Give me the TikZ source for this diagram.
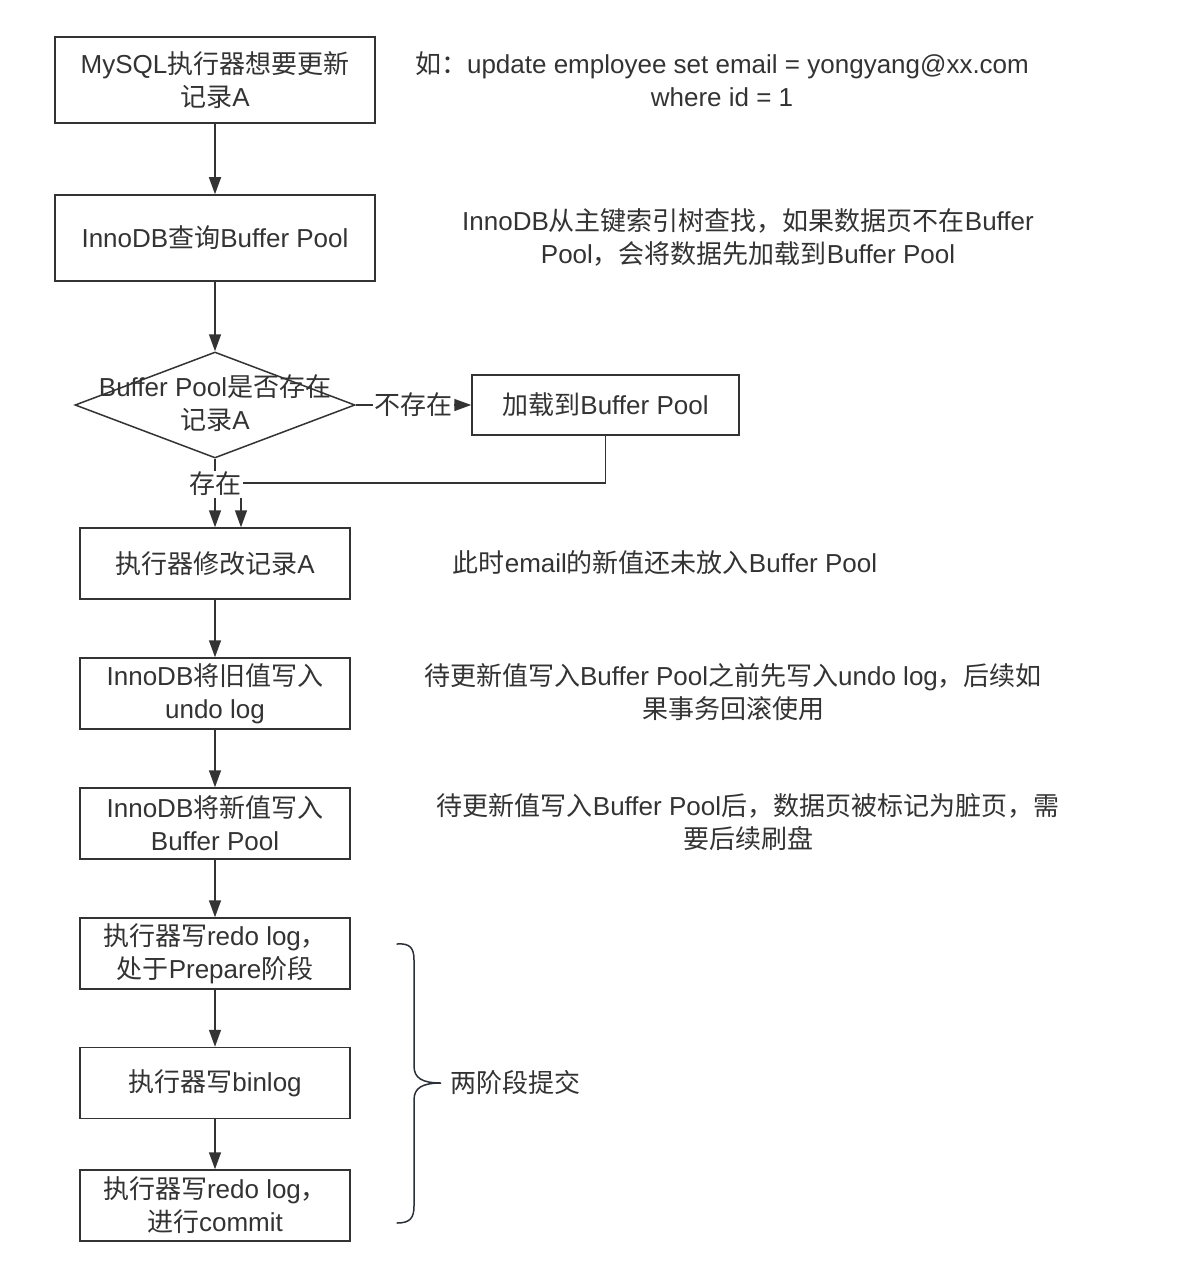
\documentclass[tikz,border=0pt]{standalone}
\usepackage{fontspec}
\setmainfont{Liberation Sans}
\newfontfamily\cjk{Noto Sans CJK SC}
\usetikzlibrary{arrows.meta,shapes.geometric}
\XeTeXinterchartokenstate=1
\newXeTeXintercharclass\CJKcls
\count255="4E00
\loop\XeTeXcharclass\count255=\CJKcls\ifnum\count255<"9FFF\advance\count255 by 1\repeat
\count255="3000
\loop\XeTeXcharclass\count255=\CJKcls\ifnum\count255<"303F\advance\count255 by 1\repeat
\count255="FF00
\loop\XeTeXcharclass\count255=\CJKcls\ifnum\count255<"FFEF\advance\count255 by 1\repeat
\XeTeXinterchartoks 0 \CJKcls = {\begingroup\cjk}
\XeTeXinterchartoks 4095 \CJKcls = {\begingroup\cjk}
\XeTeXinterchartoks \CJKcls 0 = {\endgroup}
\XeTeXinterchartoks \CJKcls 4095 = {\endgroup}
\definecolor{ln}{HTML}{333333}
\definecolor{tx}{HTML}{333333}
\definecolor{br}{HTML}{2B3038}
\tikzset{
  every node/.style={font=\fontsize{26}{33}\selectfont, text=tx, align=center, inner sep=0pt},
  box/.style={draw=ln, line width=1.5pt, rectangle},
  bigbox/.style={box, minimum width=320pt, minimum height=86pt},
  stepbox/.style={box, minimum width=270pt, minimum height=71pt},
  arr/.style={draw=ln, line width=1.5pt, -{Triangle[length=17pt,width=12pt]}},
  lab/.style={fill=white, inner sep=1.5pt},
  note/.style={}
}
\begin{document}
\begin{tikzpicture}[x=1pt,y=-1pt]
\useasboundingbox[fill=white] (0,0) rectangle (1176,1268);
% main flow
\node[bigbox] (b1) at (215,80) {MySQL执行器想要更新\\记录A};
\node[bigbox] (b2) at (215,238) {InnoDB查询Buffer Pool};
\node[diamond, draw=ln, line width=1.5pt, minimum width=280pt, minimum height=106pt] (d) at (215,405) {};
\node (dt) at (215,403) {Buffer Pool是否存在\\记录A};
\node[box, minimum width=267pt, minimum height=60pt] (b3) at (605.5,405) {加载到Buffer Pool};
\node[stepbox] (b4) at (215,563.5) {执行器修改记录A};
\node[stepbox] (b5) at (215,693.5) {InnoDB将旧值写入\\undo log};
\node[stepbox] (b6) at (215,823.5) {InnoDB将新值写入\\Buffer Pool};
\node[stepbox] (b7) at (215,953.5) {执行器写redo log，\\处于Prepare阶段};
\node[stepbox] (b8) at (215,1083) {执行器写binlog};
\node[stepbox] (b9) at (215,1205.5) {执行器写redo log，\\进行commit};
% notes
\node[note] (n1) at (722,79) {如：update employee set email = yongyang@xx.com\\where id = 1};
\node[note] (n2) at (748,237) {InnoDB从主键索引树查找，如果数据页不在Buffer\\Pool，会将数据先加载到Buffer Pool};
\node[note] (n4) at (665,563) {此时email的新值还未放入Buffer Pool};
\node[note] (n5) at (733,692) {待更新值写入Buffer Pool之前先写入undo log，后续如\\果事务回滚使用};
\node[note] (n6) at (748,822) {待更新值写入Buffer Pool后，数据页被标记为脏页，需\\要后续刷盘};
% connectors
\draw[arr] (b1) -- (b2);
\draw[arr] (b2) -- (d.north);
\draw[arr] (d.east) -- node[lab] {不存在} (b3.west);
\coordinate (j) at (241,483);
\draw[arr] (b3.south) |- (j) -- (j |- b4.north);
\draw[arr] (d.south) -- node[lab, pos=0.37] {存在} (b4.north);
\draw[arr] (b4) -- (b5);
\draw[arr] (b5) -- (b6);
\draw[arr] (b6) -- (b7);
\draw[arr] (b7) -- (b8);
\draw[arr] (b8) -- (b9);
% brace
\draw[draw=br, line width=1.5pt, line cap=round]
  (397,944) .. controls (410,943) and (414,948) .. (414,960)
  -- (414,1066) .. controls (414,1078) and (422,1083) .. (441,1083)
  .. controls (422,1083) and (414,1088) .. (414,1100)
  -- (414,1206) .. controls (414,1218) and (410,1223) .. (397,1223);
\node (bl) at (515,1083) {两阶段提交};
\end{tikzpicture}
\end{document}
